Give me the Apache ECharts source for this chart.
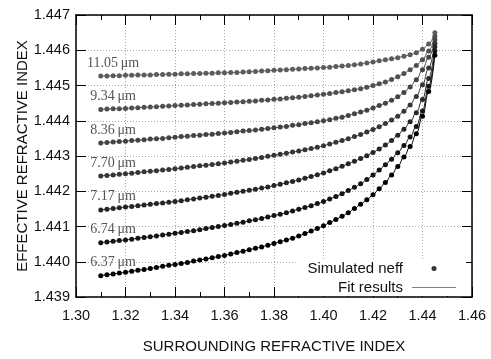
<!DOCTYPE html>
<html>
<head>
<meta charset="utf-8">
<script src="https://cdn.jsdelivr.net/npm/echarts@6/dist/echarts.min.js"></script>
<style>html,body{margin:0;padding:0;background:#fff;}#chart{width:491px;height:359px;}</style>
</head>
<body>
<div id="chart"></div>
<script>
// Surrounding refractive index (shared sample positions)
const xValues = [1.3100,1.3125,1.3150,1.3175,1.3200,1.3225,1.3250,1.3275,1.3300,1.3325,
1.3350,1.3375,1.3400,1.3425,1.3450,1.3475,1.3500,1.3525,1.3550,1.3575,
1.3600,1.3625,1.3650,1.3675,1.3700,1.3725,1.3750,1.3775,1.3800,1.3825,
1.3850,1.3875,1.3900,1.3925,1.3950,1.3975,1.4000,1.4025,1.4050,1.4075,
1.4100,1.4125,1.4150,1.4175,1.4200,1.4225,1.4250,1.4275,1.4300,1.4325,
1.4350,1.4375,1.4400,1.4425,1.4450];

const neff_1105 = [1.44527,1.44527,1.44528,1.44528,1.44529,1.44529,1.44530,1.44530,1.44530,1.44531,
1.44531,1.44532,1.44532,1.44533,1.44533,1.44534,1.44534,1.44535,1.44535,1.44536,
1.44536,1.44537,1.44537,1.44538,1.44539,1.44540,1.44541,1.44542,1.44543,1.44544,
1.44545,1.44546,1.44547,1.44548,1.44549,1.44550,1.44551,1.44552,1.44554,1.44555,
1.44557,1.44559,1.44561,1.44564,1.44567,1.44570,1.44573,1.44576,1.44579,1.44583,
1.44587,1.44593,1.44603,1.44618,1.44650];

const neff_934 = [1.44432,1.44433,1.44434,1.44434,1.44435,1.44436,1.44437,1.44438,1.44439,1.44440,
1.44441,1.44442,1.44443,1.44444,1.44445,1.44446,1.44447,1.44448,1.44449,1.44450,
1.44451,1.44452,1.44453,1.44454,1.44455,1.44456,1.44458,1.44459,1.44461,1.44462,
1.44464,1.44465,1.44467,1.44469,1.44471,1.44473,1.44475,1.44477,1.44480,1.44482,
1.44485,1.44488,1.44491,1.44495,1.44500,1.44505,1.44510,1.44517,1.44525,1.44534,
1.44545,1.44557,1.44573,1.44598,1.44640];

const neff_836 = [1.44337,1.44338,1.44340,1.44341,1.44342,1.44344,1.44345,1.44346,1.44348,1.44349,
1.44350,1.44352,1.44353,1.44355,1.44356,1.44358,1.44359,1.44361,1.44362,1.44364,
1.44365,1.44367,1.44369,1.44371,1.44372,1.44374,1.44376,1.44378,1.44380,1.44382,
1.44384,1.44387,1.44389,1.44392,1.44394,1.44397,1.44400,1.44403,1.44407,1.44410,
1.44415,1.44420,1.44425,1.44430,1.44436,1.44443,1.44450,1.44458,1.44468,1.44480,
1.44496,1.44516,1.44545,1.44580,1.44630];

const neff_770 = [1.44243,1.44245,1.44246,1.44248,1.44250,1.44251,1.44253,1.44255,1.44257,1.44258,
1.44260,1.44262,1.44264,1.44266,1.44268,1.44270,1.44272,1.44274,1.44276,1.44278,
1.44280,1.44283,1.44285,1.44288,1.44290,1.44293,1.44296,1.44299,1.44302,1.44305,
1.44308,1.44311,1.44314,1.44318,1.44321,1.44325,1.44329,1.44334,1.44339,1.44344,
1.44349,1.44355,1.44361,1.44368,1.44375,1.44383,1.44392,1.44402,1.44413,1.44427,
1.44445,1.44469,1.44502,1.44550,1.44620];

const neff_717 = [1.44147,1.44149,1.44151,1.44153,1.44155,1.44157,1.44159,1.44161,1.44163,1.44165,
1.44167,1.44169,1.44171,1.44173,1.44176,1.44178,1.44181,1.44183,1.44186,1.44188,
1.44191,1.44194,1.44197,1.44200,1.44203,1.44206,1.44209,1.44212,1.44216,1.44220,
1.44224,1.44228,1.44232,1.44237,1.44242,1.44247,1.44252,1.44258,1.44264,1.44271,
1.44278,1.44285,1.44293,1.44301,1.44310,1.44320,1.44331,1.44344,1.44359,1.44376,
1.44397,1.44423,1.44460,1.44520,1.44610];

const neff_674 = [1.44054,1.44056,1.44058,1.44060,1.44062,1.44064,1.44067,1.44069,1.44071,1.44073,
1.44076,1.44078,1.44081,1.44083,1.44086,1.44088,1.44091,1.44094,1.44097,1.44100,
1.44103,1.44106,1.44109,1.44112,1.44116,1.44119,1.44123,1.44127,1.44131,1.44135,
1.44139,1.44144,1.44149,1.44154,1.44159,1.44165,1.44171,1.44178,1.44185,1.44193,
1.44202,1.44211,1.44221,1.44233,1.44246,1.44260,1.44275,1.44291,1.44309,1.44330,
1.44354,1.44384,1.44428,1.44498,1.44598];

const neff_637 = [1.43960,1.43963,1.43965,1.43968,1.43970,1.43973,1.43976,1.43978,1.43981,1.43984,
1.43987,1.43990,1.43992,1.43995,1.43998,1.44002,1.44005,1.44008,1.44011,1.44015,
1.44018,1.44022,1.44026,1.44030,1.44034,1.44038,1.44042,1.44047,1.44052,1.44057,
1.44062,1.44067,1.44073,1.44080,1.44087,1.44094,1.44102,1.44111,1.44120,1.44129,
1.44139,1.44151,1.44163,1.44176,1.44190,1.44207,1.44225,1.44246,1.44270,1.44297,
1.44327,1.44363,1.44413,1.44483,1.44586];

const curveLabels = ['11.05\u2009μm','9.34\u2009μm','8.36\u2009μm','7.70\u2009μm','7.17\u2009μm','6.74\u2009μm','6.37\u2009μm'];
const curveValues = [neff_1105, neff_934, neff_836, neff_770, neff_717, neff_674, neff_637];
const curveColors = ['#5c5c5c','#505050','#444444','#363636','#262626','#141414','#000000'];

const xTicks = {min:1.30, max:1.46, interval:0.02};
const yTicks = {min:1.439, max:1.447, interval:0.001};

const chart = echarts.init(document.getElementById('chart'), null, {renderer:'canvas'});
const sans = "'Liberation Sans', Arial, sans-serif";
const labelIndex = 2;

const series = [];
// fit lines first (below points)
curveValues.forEach((vals, k) => {
  series.push({
    name: 'Fit results', type: 'line', smooth: 0.4, smoothMonotone: 'x',
    symbol: 'none', silent: true, z: 2,
    lineStyle: {color: curveColors[k], width: 1},
    data: vals.map((v, i) => [xValues[i], v])
  });
});
curveValues.forEach((vals, k) => {
  series.push({
    name: 'Simulated neff', type: 'scatter', symbol: 'circle', symbolSize: 5, z: 3,
    itemStyle: {color: curveColors[k], opacity: 1},
    data: vals.map((v, i) => {
      if (i === labelIndex) {
        return {value: [xValues[i], v], label: {
          show: true, formatter: curveLabels[k], position: 'inside', offset: [0, -12],
          align: 'center', verticalAlign: 'middle',
          fontFamily: "'Liberation Serif', 'DejaVu Serif', serif", fontSize: 14, color: '#555'
        }};
      }
      return [xValues[i], v];
    })
  });
});

const baseAxis = {
  axisLine: {show: true, onZero: false, lineStyle: {color: '#000', width: 1.5}},
  axisTick: {show: true, inside: true, length: 10, lineStyle: {color: '#000', width: 1}},
};

chart.setOption({
  animation: false,
  backgroundColor: '#fff',
  grid: {left: 76, right: 19, top: 15, bottom: 54, containLabel: false},
  legend: {
    orient: 'vertical', align: 'right', right: 25, top: 260,
    backgroundColor: '#fff', padding: [1, 10, 1, 12], itemGap: 4,
    itemWidth: 44, itemHeight: 5,
    textStyle: {fontFamily: sans, fontSize: 15, color: '#111', lineHeight: 15, height: 15, padding: [0, 4, 0, 0]},
    data: [
      {name: 'Simulated neff', icon: 'circle', itemStyle: {color: '#333'}},
      {name: 'Fit results', icon: 'path://M0,0L44,0L44,1L0,1Z', itemStyle: {color: '#808080', borderWidth: 0}}
    ],
    selectedMode: false
  },
  xAxis: [
    Object.assign({}, baseAxis, {
      type: 'value', position: 'bottom', min: xTicks.min, max: xTicks.max, interval: xTicks.interval,
      name: 'SURROUNDING REFRACTIVE INDEX', nameLocation: 'middle', nameGap: 42, nameMoveOverlap: false,
      nameTextStyle: {fontFamily: sans, fontSize: 15, color: '#111'},
      axisLabel: {margin: 11, fontFamily: sans, fontSize: 14.5, color: '#111', formatter: v => v.toFixed(2)},
      minorTick: {show: true, splitNumber: 2, length: 5, lineStyle: {color: '#000', width: 1}},
      splitLine: {show: true, lineStyle: {color: '#a8a8a8', width: 1, type: [1, 2]}}
    }),
    Object.assign({}, baseAxis, {
      type: 'value', position: 'top', min: xTicks.min, max: xTicks.max, interval: xTicks.interval,
      axisLabel: {show: false},
      minorTick: {show: true, splitNumber: 2, length: 5, lineStyle: {color: '#000', width: 1}},
      splitLine: {show: false}
    })
  ],
  yAxis: [
    Object.assign({}, baseAxis, {
      type: 'value', position: 'left', min: yTicks.min, max: yTicks.max, interval: yTicks.interval,
      name: 'EFFECTIVE REFRACTIVE INDEX', nameLocation: 'middle', nameGap: 46, nameMoveOverlap: false,
      nameTextStyle: {fontFamily: sans, fontSize: 15, color: '#111'},
      axisLabel: {margin: 6, fontFamily: sans, fontSize: 14.5, color: '#111', formatter: v => v.toFixed(3)},
      splitLine: {show: true, lineStyle: {color: '#a8a8a8', width: 1, type: [1, 2]}}
    }),
    Object.assign({}, baseAxis, {
      type: 'value', position: 'right', min: yTicks.min, max: yTicks.max, interval: yTicks.interval,
      axisLabel: {show: false}, splitLine: {show: false}
    })
  ],
  series: series
});
</script>
</body>
</html>
